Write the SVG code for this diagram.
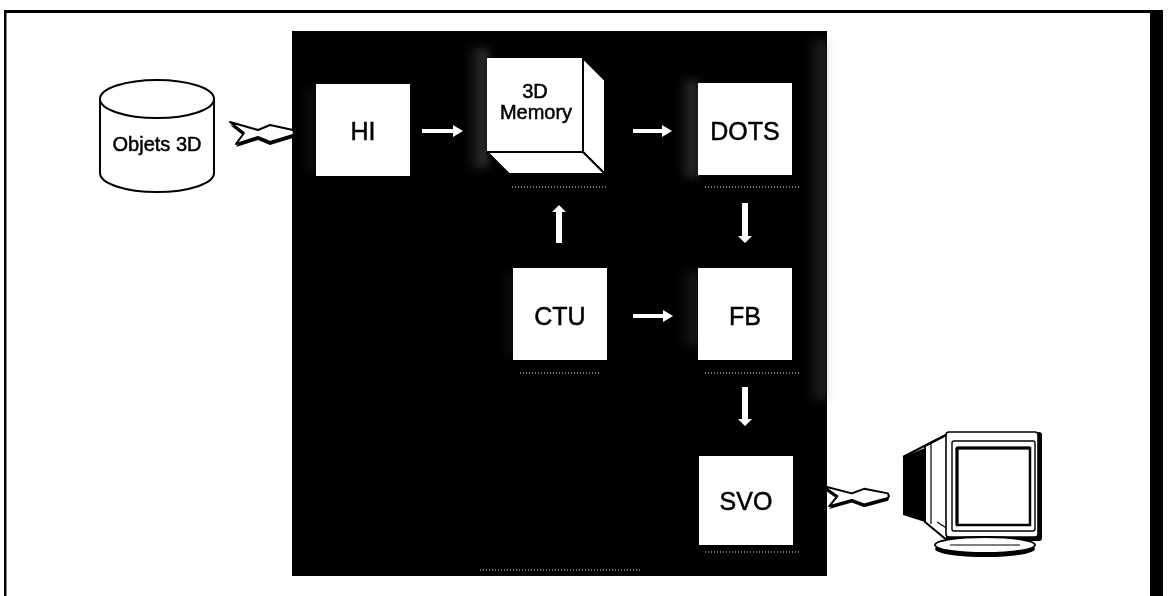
<svg xmlns="http://www.w3.org/2000/svg" width="1169" height="596" viewBox="0 0 1169 596">
  <style>
    .box { fill: #ffffff; }
    .label { font-family: "Liberation Sans", Arial, sans-serif; fill: #000; stroke: #000; stroke-width: 0.5; text-anchor: middle; }
    .big { font-size: 25px; }
    .mid { font-size: 20px; }
    .arrow { fill: #ffffff; }
    .outline { fill: #ffffff; stroke: #000; stroke-width: 2; stroke-linejoin: round; }
    .dots { stroke: #9a9a9a; stroke-width: 1.5; stroke-dasharray: 1 2; fill: none; }
    .haze { fill: url(#hazeL); }
  </style>
  <defs>
    <linearGradient id="hazeL" x1="0" y1="0" x2="1" y2="0">
      <stop offset="0" stop-color="#8a8a8a" stop-opacity="0"/>
      <stop offset="1" stop-color="#8a8a8a" stop-opacity="0.4"/>
    </linearGradient>
    <linearGradient id="edgeR" x1="0" y1="0" x2="1" y2="0">
      <stop offset="0" stop-color="#666" stop-opacity="0"/>
      <stop offset="1" stop-color="#666" stop-opacity="0.35"/>
    </linearGradient>
    <filter id="soft" x="-50%" y="-50%" width="200%" height="200%">
      <feGaussianBlur stdDeviation="4"/>
    </filter>
    <!-- twisted ribbon used for the external links -->
    <g id="link">
      <path d="M0,3 L28,11 L40,6 L63,11 L64,14 L63,16 L40,23 L28,18 L6,25 L14,14 Z" fill="#000"/>
      <path class="outline" d="M0,0 L28,8 L40,3 L63,8 L64,11 L63,13 L40,20 L28,15 L6,22 L14,11 Z" stroke-width="1.8"/>
    </g>
  </defs>

  <rect width="1169" height="596" fill="#ffffff"/>

  <!-- outer frame -->
  <g id="frame">
    <rect x="4" y="10" width="1158" height="3" fill="#000"/>
    <rect x="4" y="10" width="2.5" height="586" fill="#000"/>
    <rect x="1150" y="10" width="13" height="586" fill="#000"/>
  </g>

  <!-- system cabinet -->
  <g id="cabinet">
    <rect x="292" y="31" width="535" height="545" fill="#000"/>
    <g filter="url(#soft)">
      <rect x="805" y="40" width="22" height="360" fill="url(#edgeR)"/>
      <rect class="haze" x="466" y="48" width="22" height="120"/>
      <rect class="haze" x="678" y="80" width="20" height="98"/>
      <rect class="haze" x="680" y="272" width="18" height="74" opacity="0.6"/>
      <rect class="haze" x="304" y="88" width="12" height="84" opacity="0.4"/>
      <rect class="haze" x="503" y="272" width="10" height="84" opacity="0.4"/>
    </g>
    <line class="dots" x1="512" y1="187" x2="608" y2="187"/>
    <line class="dots" x1="705" y1="187" x2="800" y2="187"/>
    <line class="dots" x1="520" y1="373" x2="600" y2="373"/>
    <line class="dots" x1="705" y1="373" x2="800" y2="373"/>
    <line class="dots" x1="705" y1="552" x2="800" y2="552"/>
    <line class="dots" x1="480" y1="570" x2="640" y2="570"/>
  </g>

  <!-- database of 3D objects -->
  <g id="objets3d">
    <path class="outline" d="M100,99 L100,173 A57,19 0 0 0 214,173 L214,99"/>
    <ellipse class="outline" cx="157" cy="99" rx="57" ry="19"/>
    <text class="label mid" x="157" y="151">Objets 3D</text>
  </g>

  <g id="hi">
    <rect class="box" x="316" y="84" width="94" height="92"/>
    <text class="label big" x="363" y="140">HI</text>
  </g>

  <g id="memory3d">
    <rect class="box" x="487" y="58" width="96" height="94"/>
    <path class="outline" d="M583,58 L605,80 L605,174 L583,152 Z" stroke-width="1.5"/>
    <path class="outline" d="M487,152 L583,152 L605,174 L509,174 Z" stroke-width="1.5"/>
    <text class="label mid" x="535" y="98">3D</text>
    <text class="label mid" x="536" y="119">Memory</text>
  </g>

  <g id="dots">
    <rect class="box" x="698" y="83" width="94" height="92"/>
    <text class="label big" x="745" y="140">DOTS</text>
  </g>

  <g id="ctu">
    <rect class="box" x="513" y="268" width="94" height="92"/>
    <text class="label big" x="560" y="325">CTU</text>
  </g>

  <g id="fb">
    <rect class="box" x="698" y="268" width="94" height="92"/>
    <text class="label big" x="745" y="325">FB</text>
  </g>

  <g id="svo">
    <rect class="box" x="699" y="456" width="94" height="89"/>
    <text class="label big" x="746" y="510">SVO</text>
  </g>

  <!-- display -->
  <g id="monitor">
    <path d="M903,457 L925,448 L925,522 L903,515 Z" fill="#000"/>
    <path class="outline" d="M925,446 L948,434 L948,541 L925,522 Z" stroke-width="1.6"/>
    <path d="M903,457 L932,442 L948,434" fill="none" stroke="#000" stroke-width="2"/>
    <path d="M931,444 L931,524" stroke="#000" stroke-width="1.2"/>
    <path d="M937,522 L948,529" stroke="#000" stroke-width="1.2"/>
    <rect x="946" y="432" width="96" height="109" rx="3" fill="#000"/>
    <rect x="946" y="432" width="92" height="105" rx="3" fill="#fff" stroke="#000" stroke-width="1.6"/>
    <rect x="952" y="441" width="83" height="90" rx="2" fill="#fff" stroke="#000" stroke-width="1.4"/>
    <rect x="957" y="448" width="73" height="77" fill="#fff" stroke="#000" stroke-width="2.5"/>
    <path d="M957,448 L1030,448 M957,448 L957,525" stroke="#000" stroke-width="3"/>
    <path d="M962,538 L962,544 M1010,538 L1010,544" stroke="#000" stroke-width="1.6"/>
    <ellipse cx="985" cy="549" rx="50" ry="8" fill="#000"/>
    <ellipse cx="985" cy="545" rx="50" ry="8" fill="#fff" stroke="#000" stroke-width="1.8"/>
    <path d="M950,545 L1020,545" stroke="#000" stroke-width="1"/>
  </g>

  <!-- data paths -->
  <g id="connectors">
    <use href="#link" x="230" y="122"/>
    <use href="#link" transform="translate(823,486) scale(1.03,0.92)"/>
    <!-- HI to 3D Memory -->
    <path class="arrow" d="M422,129 L453,129 L453,125 L463,131 L453,137 L453,133 L422,133 Z"/>
    <!-- 3D Memory to DOTS -->
    <path class="arrow" d="M633,129 L662,129 L662,125 L672,131 L662,137 L662,133 L633,133 Z"/>
    <!-- CTU to FB -->
    <path class="arrow" d="M633,314 L663,314 L663,310 L673,316 L663,322 L663,318 L633,318 Z"/>
    <!-- DOTS to FB -->
    <path class="arrow" d="M742,203 L748,203 L748,236 L752,236 L745,243 L738,236 L742,236 Z"/>
    <!-- FB to SVO -->
    <path class="arrow" d="M742,387 L748,387 L748,419 L752,419 L745,426 L738,419 L742,419 Z"/>
    <!-- CTU to 3D Memory -->
    <path class="arrow" d="M556,243 L562,243 L562,212 L566,212 L559,205 L552,212 L556,212 Z"/>
  </g>
</svg>
